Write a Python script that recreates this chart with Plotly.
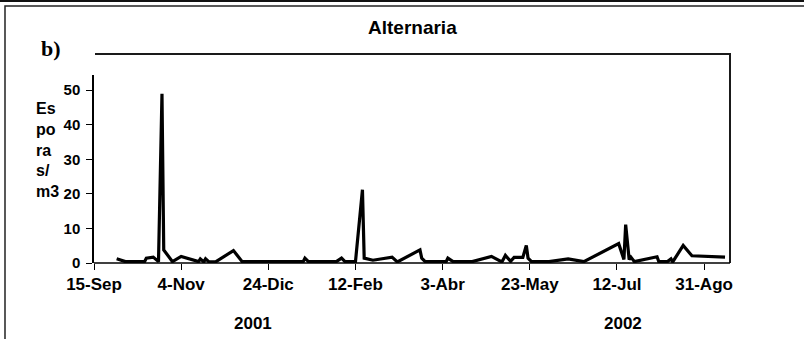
import plotly.graph_objects as go

# Alternaria airborne spore counts (spores/m3), Sep 2001 - Sep 2002
dates = [
    "2001-09-28", "2001-10-03", "2001-10-14", "2001-10-15", "2001-10-19", "2001-10-22",
    "2001-10-24", "2001-10-25", "2001-10-30", "2001-11-04", "2001-11-14", "2001-11-15",
    "2001-11-17", "2001-11-18", "2001-11-20", "2001-11-24", "2001-12-04", "2001-12-09",
    "2002-01-13", "2002-01-14", "2002-01-16", "2002-02-01", "2002-02-04", "2002-02-06",
    "2002-02-12", "2002-02-14", "2002-02-16", "2002-02-17", "2002-02-22", "2002-03-05",
    "2002-03-08", "2002-03-21", "2002-03-22", "2002-03-24", "2002-04-05", "2002-04-06",
    "2002-04-09", "2002-04-20", "2002-05-01", "2002-05-07", "2002-05-09", "2002-05-12",
    "2002-05-14", "2002-05-19", "2002-05-21", "2002-05-22", "2002-05-24", "2002-06-03",
    "2002-06-14", "2002-06-23", "2002-07-13", "2002-07-16", "2002-07-17", "2002-07-19",
    "2002-07-20", "2002-07-22", "2002-08-04", "2002-08-05", "2002-08-10", "2002-08-12",
    "2002-08-13", "2002-08-19", "2002-08-24", "2002-09-12",
]
esporas = [
    1.2, 0.4, 0.4, 1.4, 1.7, 0.4,
    49.0, 3.8, 0.4, 1.9, 0.4, 1.2,
    0.3, 1.2, 0.3, 0.4, 3.6, 0.4,
    0.4, 1.4, 0.4, 0.4, 1.4, 0.4,
    0.4, 10.1, 21.2, 1.4, 0.8, 1.7,
    0.3, 3.8, 1.4, 0.4, 0.4, 1.4,
    0.4, 0.4, 1.9, 0.3, 2.2, 0.5,
    1.6, 1.6, 5.1, 1.4, 0.4, 0.4,
    1.2, 0.4, 5.6, 1.0, 11.1, 1.0,
    1.7, 0.4, 1.8, 0.4, 0.4, 1.2,
    0.3, 5.1, 2.1, 1.7,
]

tick_dates = ["2001-09-15", "2001-11-04", "2001-12-24", "2002-02-12",
              "2002-04-03", "2002-05-23", "2002-07-12", "2002-08-31"]
tick_labels = ["15-Sep", "4-Nov", "24-Dic", "12-Feb",
               "3-Abr", "23-May", "12-Jul", "31-Ago"]
y_ticks = [0, 10, 20, 30, 40, 50]

FONT = "Liberation Sans, Arial, sans-serif"

fig = go.Figure(
    go.Scatter(
        x=dates, y=esporas, mode="lines",
        line=dict(color="black", width=3.2),
        hoverinfo="x+y",
    )
)

# plot-area geometry in pixels (used to place decorations in paper units)
W, H = 804, 339
L, R, T, B = 94, 732, 75, 263


def px(x):
    return (x - L) / (R - L)


def py(y):
    return (B - y) / (B - T)


def polyline(points, color, width):
    path = "M " + " L ".join("%.5f,%.5f" % (px(x), py(y)) for x, y in points)
    return dict(type="path", xref="paper", yref="paper", layer="above", path=path,
                line=dict(color=color, width=width))


shapes = [
    # chart frame: top edge and right edge down to the x axis
    polyline([(95, 54), (730, 54), (730, 263)], "#1a1a1a", 2),
    # outer border
    polyline([(0, 1), (W, 1)], "#111", 2),
    polyline([(5, H), (5, 6), (W, 6)], "#222", 1.5),
]


def label(text, x, y, size, family=FONT, xanchor="center", align="center"):
    return dict(text=text, xref="paper", yref="paper", x=px(x), y=py(y),
                xanchor=xanchor, yanchor="middle", align=align, showarrow=False,
                font=dict(family=family, size=size, color="black"))


annotations = [
    label("<b>Alternaria</b>", 412, 27, 19),
    label("<b>b)</b>", 51, 49, 22, family="Liberation Serif, Times New Roman, serif"),
    label("<b>Es<br>po<br>ra<br>s/<br>m3</b>", 34, 150, 16, xanchor="left", align="left"),
    label("<b>2001</b>", 253, 323, 17),
    label("<b>2002</b>", 623, 323, 17),
]

fig.update_layout(
    width=W, height=H,
    margin=dict(l=L, r=W - R, t=T, b=H - B, pad=0),
    paper_bgcolor="white", plot_bgcolor="white",
    showlegend=False,
    shapes=shapes,
    annotations=annotations,
    xaxis=dict(
        type="date", range=["2001-09-15", "2002-09-16"],
        tickmode="array", tickvals=tick_dates, ticktext=["<b>%s</b>" % t for t in tick_labels],
        ticks="outside", ticklen=6, tickwidth=1, tickcolor="black",
        showline=False,
        showgrid=False, zeroline=False,
        tickfont=dict(family=FONT, size=17, color="black"),
    ),
    yaxis=dict(
        range=[0, 54.4],
        tickmode="array", tickvals=y_ticks, ticktext=["<b>%d</b>" % v for v in y_ticks],
        ticks="outside", ticklen=6, tickwidth=1, tickcolor="black",
        ticklabelstandoff=3,
        showline=True, linecolor="black", linewidth=1.5,
        showgrid=False, zeroline=False,
        tickfont=dict(family=FONT, size=15, color="black"),
    ),
)

# x axis baseline ending at the right frame edge
fig.add_shape(polyline([(94, 263), (730, 263)], "black", 1.5))

fig.write_html("out.html")
